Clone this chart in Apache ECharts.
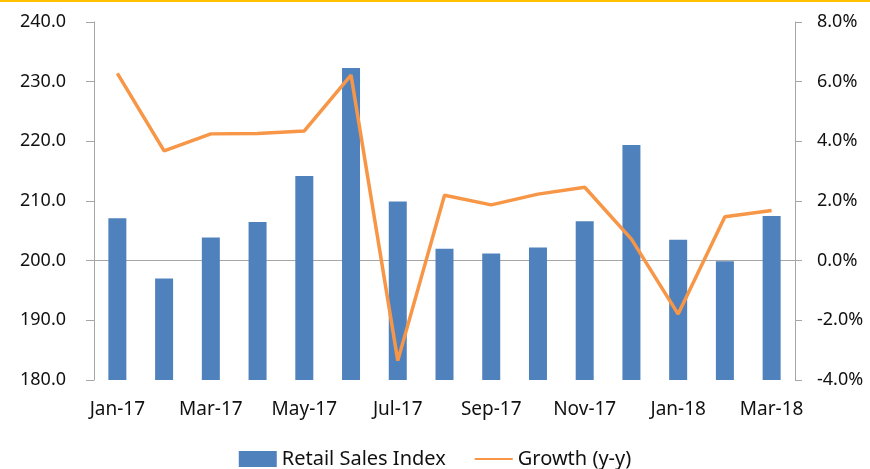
<!DOCTYPE html>
<html>
<head>
<meta charset="utf-8">
<script src="https://cdn.jsdelivr.net/npm/echarts@6/dist/echarts.min.js"></script>
<style>
  html, body { margin: 0; padding: 0; background: #fff; }
  #main { width: 870px; height: 469px; }
</style>
</head>
<body>
<div id="main"></div>
<script>
// months on the x axis
var months = ['Jan-17', 'Feb-17', 'Mar-17', 'Apr-17', 'May-17', 'Jun-17', 'Jul-17', 'Aug-17',
              'Sep-17', 'Oct-17', 'Nov-17', 'Dec-17', 'Jan-18', 'Feb-18', 'Mar-18'];
// retail sales index (left axis)
var salesIndex = [207.1, 197.0, 203.9, 206.5, 214.2, 232.3, 209.9, 202.0,
                  201.2, 202.2, 206.6, 219.4, 203.5, 199.9, 207.5];
// growth y-y in % (right axis)
var growth = [6.28, 3.68, 4.25, 4.26, 4.35, 6.22, -3.35, 2.19,
              1.87, 2.23, 2.46, 0.72, -1.79, 1.47, 1.68];

var myChart = echarts.init(document.getElementById('main'));

var font = 'Noto Sans';
var axisGray = '#a6a6a6';

var option = {
    animation: false,
    textStyle: { fontFamily: font },
    graphic: [
        { type: 'rect', left: 0, top: 0, shape: { width: 870, height: 2 }, style: { fill: '#ffc000' } }
    ],
    grid: { left: 94, right: 75, top: 22, bottom: 89 },
    legend: {
        bottom: -5,
        left: 'center',
        itemGap: 28,
        itemWidth: 38,
        itemHeight: 16,
        textStyle: { fontFamily: font, fontSize: 20, color: '#111' },
        data: [
            { name: 'Retail Sales Index', icon: 'rect' },
            { name: 'Growth (y-y)', itemStyle: { opacity: 0 } }
        ]
    },
    xAxis: {
        type: 'category',
        data: months,
        axisLine: { lineStyle: { color: axisGray, width: 1 } },
        axisTick: { interval: 1, length: 7, lineStyle: { color: axisGray } },
        axisLabel: { interval: 1, color: '#111', fontSize: 19, margin: 20, fontFamily: font }
    },
    yAxis: [
        {
            type: 'value',
            min: 180, max: 240, interval: 10,
            splitLine: { show: false },
            axisLine: { show: true, lineStyle: { color: axisGray } },
            axisTick: { show: true, length: 8, lineStyle: { color: axisGray } },
            axisLabel: {
                color: '#111', fontSize: 18, margin: 28, fontFamily: font,
                formatter: function (v) { return v.toFixed(1); }
            }
        },
        {
            type: 'value',
            min: -4, max: 8, interval: 2,
            splitLine: { show: false },
            axisLine: { show: true, lineStyle: { color: axisGray } },
            axisTick: { show: true, length: 7, lineStyle: { color: axisGray } },
            axisLabel: {
                color: '#111', fontSize: 18, margin: 22, fontFamily: font,
                formatter: function (v) { return v.toFixed(1) + '%'; }
            }
        }
    ],
    series: [
        {
            name: 'Retail Sales Index',
            type: 'bar',
            data: salesIndex,
            barWidth: 18,
            itemStyle: { color: '#4f81bd' }
        },
        {
            name: 'Growth (y-y)',
            type: 'line',
            yAxisIndex: 1,
            data: growth,
            symbol: 'none',
            lineStyle: { color: '#f79646', width: 3.5 },
            itemStyle: { color: '#f79646' }
        }
    ]
};

myChart.setOption(option);
</script>
</body>
</html>
